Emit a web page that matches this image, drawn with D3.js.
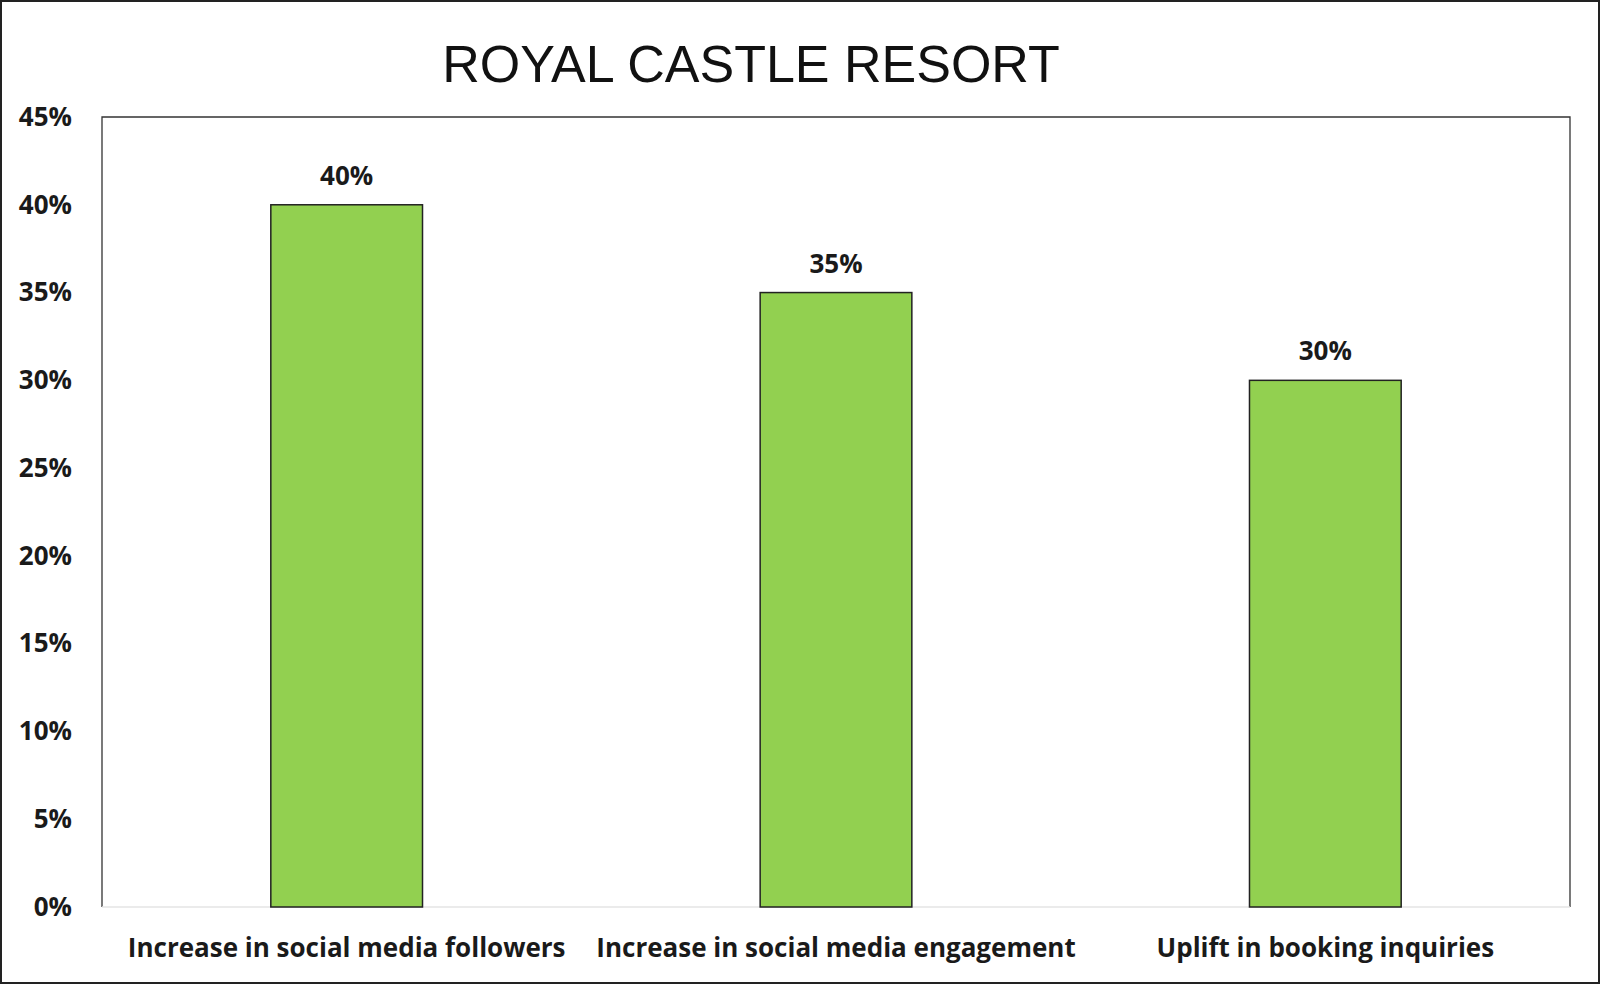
<!DOCTYPE html>
<html>
<head>
<meta charset="utf-8">
<script src="https://cdn.jsdelivr.net/npm/d3@7/dist/d3.min.js"></script>
<style>
  html, body { margin: 0; padding: 0; background: #fff; }
  svg { display: block; }
</style>
</head>
<body>
<svg id="chart" width="1600" height="984"></svg>
<script>
const title = "ROYAL CASTLE RESORT";
const categories = ["Increase in social media followers", "Increase in social media engagement", "Uplift in booking inquiries"];
const values = [0.40, 0.35, 0.30];
const yTicks = [0, 0.05, 0.10, 0.15, 0.20, 0.25, 0.30, 0.35, 0.40, 0.45];

const W = 1600, H = 984;
const plot = { left: 102, right: 1570, top: 117, bottom: 907 };
const svg = d3.select("#chart");

// outer border
svg.append("rect").attr("x", 1).attr("y", 1).attr("width", W - 2).attr("height", H - 2)
  .attr("fill", "#fff").attr("stroke", "#222").attr("stroke-width", 2);

const x = d3.scaleBand().domain(categories).range([plot.left, plot.right])
  .paddingInner(0.69).paddingOuter(0.345);
const y = d3.scaleLinear().domain([0, 0.45]).range([plot.bottom, plot.top]);

// plot frame (left, top, right)
svg.append("path")
  .attr("d", `M${plot.left},${plot.bottom}V${plot.top}H${plot.right}V${plot.bottom}`)
  .attr("fill", "none").attr("stroke", "#333").attr("stroke-width", 1.3);

// baseline
svg.append("line").attr("x1", plot.left).attr("x2", plot.right)
  .attr("y1", y(0)).attr("y2", y(0)).attr("stroke", "#e4e4e4").attr("stroke-width", 1.5);

// y axis labels
const yAxis = d3.axisLeft(y).tickValues(yTicks).tickFormat(d3.format(".0%")).tickSize(0).tickPadding(30);
const gy = svg.append("g").attr("transform", `translate(${plot.left},0)`).call(yAxis);
gy.select(".domain").remove();
gy.selectAll("text").attr("font-family", "'Open Sans', sans-serif").attr("font-weight", 700)
  .attr("font-size", 26).attr("fill", "#1a1a1a");

// x axis labels
const xAxis = d3.axisBottom(x).tickSize(0).tickPadding(32);
const gx = svg.append("g").attr("transform", `translate(0,${plot.bottom})`).call(xAxis);
gx.select(".domain").remove();
gx.selectAll("text").attr("font-family", "'Open Sans', sans-serif").attr("font-weight", 700)
  .attr("font-size", 26).attr("fill", "#1a1a1a");

// bars
svg.append("g").selectAll("rect").data(values).join("rect")
  .attr("x", (d, i) => x(categories[i]))
  .attr("y", d => y(d))
  .attr("width", x.bandwidth())
  .attr("height", d => y(0) - y(d))
  .attr("fill", "#92D050")
  .attr("stroke", "#222").attr("stroke-width", 1.5);

// data labels
svg.append("g").selectAll("text").data(values).join("text")
  .attr("x", (d, i) => x(categories[i]) + x.bandwidth() / 2)
  .attr("y", d => y(d) - 20)
  .attr("text-anchor", "middle")
  .attr("font-family", "'Open Sans', sans-serif").attr("font-weight", 700)
  .attr("font-size", 26).attr("fill", "#1a1a1a")
  .text(d => d3.format(".0%")(d));

// title
svg.append("text").attr("x", 751).attr("y", 82).attr("text-anchor", "middle")
  .attr("font-family", "'Liberation Sans', Arial, sans-serif").attr("font-size", 52)
  .attr("fill", "#111").text(title);
</script>
</body>
</html>
